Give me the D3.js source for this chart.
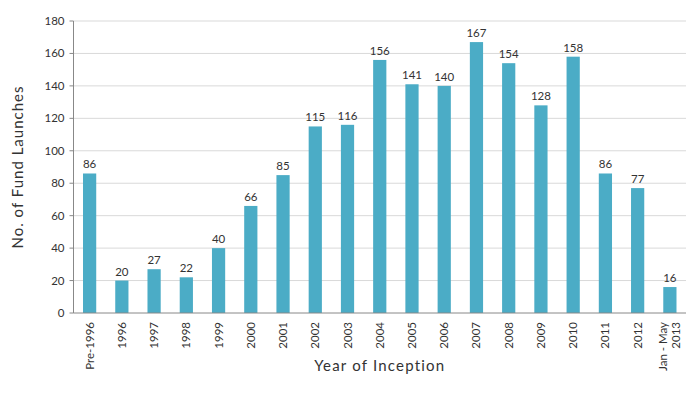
<html>
<head>
<script src="https://cdnjs.cloudflare.com/ajax/libs/d3/7.8.5/d3.min.js"></script>
<style>
  body { margin: 0; background: #fff; }
  text { font-family: "Lato", "DejaVu Sans", sans-serif; fill: #333; }
</style>
</head>
<body>
<svg id="svgMain" width="697" height="403"></svg>
<script>
    const years = ["Pre-1996", "1996", "1997", "1998", "1999", "2000", "2001", "2002", "2003", "2004",
        "2005", "2006", "2007", "2008", "2009", "2010", "2011", "2012", "Jan - May|2013"];
    const launches = [86, 20, 27, 22, 40, 66, 85, 115, 116, 156, 141, 140, 167, 154, 128, 158, 86, 77, 16];
    const yTicks = [0, 20, 40, 60, 80, 100, 120, 140, 160, 180];

    const svg = d3.select("#svgMain");
    const plotLeft = 73.5, plotRight = 686, plotTop = 21, plotBottom = 313;

    const x = d3.scaleBand().domain(years).range([plotLeft, plotRight]).padding(0);
    const y = d3.scaleLinear().domain([0, 180]).range([plotBottom, plotTop]);

    // gridlines
    svg.append("g").selectAll("line")
        .data(yTicks.filter(d => d > 0))
        .join("line")
        .attr("x1", plotLeft).attr("x2", plotRight)
        .attr("y1", d => y(d)).attr("y2", d => y(d))
        .attr("stroke", "#d9d9d9").attr("stroke-width", 1);

    // bars
    const barW = x.bandwidth() * 0.41;
    svg.append("g").selectAll("rect")
        .data(launches)
        .join("rect")
        .attr("x", (d, i) => x(years[i]) + (x.bandwidth() - barW) / 2)
        .attr("y", d => y(d))
        .attr("width", barW)
        .attr("height", d => plotBottom - y(d))
        .attr("fill", "#4bacc6");

    // value labels
    svg.append("g").selectAll("text")
        .data(launches)
        .join("text")
        .attr("x", (d, i) => x(years[i]) + x.bandwidth() / 2)
        .attr("y", d => y(d) - 5)
        .attr("text-anchor", "middle")
        .attr("font-size", 11.5)
        .text(d => d);

    // y axis
    svg.append("line").attr("x1", plotLeft).attr("x2", plotLeft).attr("y1", plotTop).attr("y2", plotBottom)
        .attr("stroke", "#888");
    svg.append("g").selectAll("line")
        .data(yTicks)
        .join("line")
        .attr("x1", plotLeft - 4).attr("x2", plotLeft)
        .attr("y1", d => y(d)).attr("y2", d => y(d))
        .attr("stroke", "#888");
    svg.append("g").selectAll("text")
        .data(yTicks)
        .join("text")
        .attr("x", plotLeft - 9)
        .attr("y", d => y(d) + 4)
        .attr("text-anchor", "end")
        .attr("font-size", 11.5)
        .text(d => d);

    // x axis
    svg.append("line").attr("x1", plotLeft).attr("x2", plotRight).attr("y1", plotBottom).attr("y2", plotBottom)
        .attr("stroke", "#888");

    const xl = svg.append("g").selectAll("text")
        .data(years)
        .join("text")
        .attr("transform", d => "translate(" + (x(d) + x.bandwidth() / 2) + "," + (plotBottom + 9) + ") rotate(-90)")
        .attr("text-anchor", "end")
        .attr("font-size", 11.5);
    xl.each(function (d) {
        const lines = d.split("|");
        const sel = d3.select(this);
        lines.forEach((t, k) => {
            sel.append("tspan")
                .attr("x", 0)
                .attr("y", 4 + (k - (lines.length - 1) / 2) * 13)
                .text(t);
        });
    });

    // axis titles
    svg.append("text")
        .attr("transform", "translate(23," + ((plotTop + plotBottom) / 2) + ") rotate(-90)")
        .attr("text-anchor", "middle")
        .attr("font-size", 15)
        .attr("letter-spacing", 1)
        .text("No. of Fund Launches");
    svg.append("text")
        .attr("x", (plotLeft + plotRight) / 2)
        .attr("y", 371)
        .attr("text-anchor", "middle")
        .attr("font-size", 15)
        .attr("letter-spacing", 1.2)
        .text("Year of Inception");
</script>
</body>
</html>
